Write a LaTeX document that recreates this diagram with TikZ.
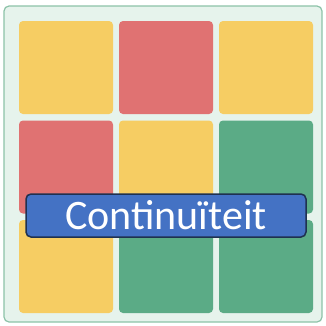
\documentclass[tikz,border=0pt]{standalone}
\usepackage{fontspec}
\setmainfont{Carlito}
\definecolor{cy}{HTML}{F6CD63}
\definecolor{cr}{HTML}{E07272}
\definecolor{cg}{HTML}{5BAB86}
\definecolor{bgc}{HTML}{E6F3EC}
\definecolor{frm}{HTML}{8CC2A8}
\definecolor{lblue}{HTML}{4472C4}
\definecolor{lbord}{HTML}{1F3150}
\begin{document}
\begin{tikzpicture}[x=1pt,y=-1pt,
  tile/.style={rounded corners=4pt,draw=none},
  lab/.style={fill=lblue,draw=lbord,line width=1.5pt,rounded corners=5pt,text=white,font=\fontsize{42}{42}\selectfont,inner sep=0pt,minimum width=280pt,minimum height=43pt}]
\useasboundingbox (0,0) rectangle (326,325);
\path[fill=bgc,draw=frm,line width=1.2pt,rounded corners=5pt] (4,6) rectangle (322,322);
\foreach \c [count=\i from 0] in {cy,cr,cy,cr,cy,cg,cy,cg,cg}{
  \pgfmathtruncatemacro{\col}{mod(\i,3)}
  \pgfmathtruncatemacro{\row}{div(\i,3)}
  \path[tile,fill=\c] (19+100*\col,21+99.5*\row) rectangle ++(94,93);
}
\node[lab] (label) at (166,215.5) {Continuïteit};
\end{tikzpicture}
\end{document}
